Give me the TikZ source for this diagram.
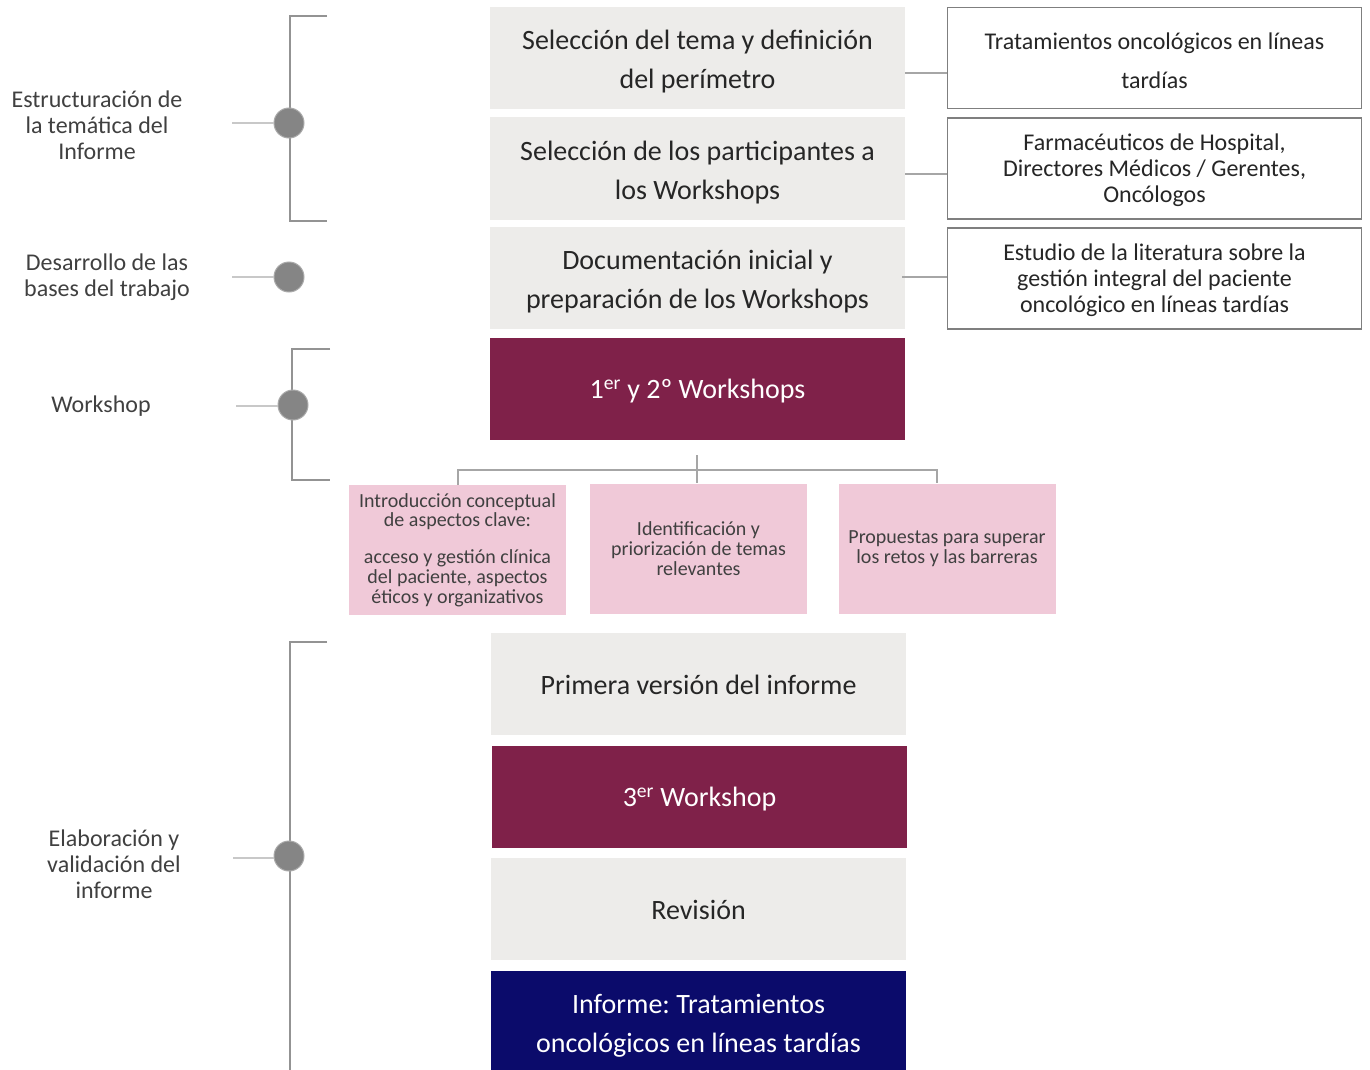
\documentclass[tikz,border=0pt]{standalone}
\usepackage{fontspec}
\setmainfont{Carlito}
\frenchspacing
\definecolor{boxgray}{HTML}{EDECEA}
\definecolor{maroon}{HTML}{7F2149}
\definecolor{navy}{HTML}{0B0B6B}
\definecolor{pinkb}{HTML}{F0C9D8}
\definecolor{txt}{HTML}{262626}
\definecolor{ltxt}{HTML}{404040}
\definecolor{rgray}{HTML}{7F7F7F}
\definecolor{brk}{HTML}{939393}
\definecolor{dotgray}{HTML}{858585}
\definecolor{conn}{HTML}{A6A6A6}
\definecolor{lconn}{HTML}{C8C8C8}
\begin{document}
\begin{tikzpicture}[x=1pt,y=-1pt,
  mainbox/.style={rectangle, minimum width=415pt, minimum height=102pt, inner sep=0pt},
  grayb/.style={mainbox, fill=boxgray},
  maroonb/.style={mainbox, fill=maroon},
  navyb/.style={mainbox, fill=navy},
  mtxt/.style={align=center, inner sep=0pt, font=\fontsize{28}{39}\selectfont, text=txt},
  wtxt/.style={mtxt, text=white},
  rbox/.style={rectangle, draw=rgray, line width=1.6pt, fill=white, minimum width=414pt, minimum height=101pt, inner sep=0pt},
  rtxt/.style={align=center, inner sep=0pt, font=\fontsize{24}{26}\selectfont, text=txt},
  pbox/.style={rectangle, fill=pinkb, minimum width=217pt, minimum height=130pt, inner sep=0pt, align=center, font=\fontsize{20}{19.8}\selectfont, text=ltxt},
  lbl/.style={align=center, font=\fontsize{24}{26}\selectfont, text=ltxt},
  dot/.style={circle, fill=dotgray, draw=dotgray!70, line width=1pt, minimum size=30pt, inner sep=0pt},
  brkline/.style={draw=brk, line width=2.6pt},
  hline/.style={draw=lconn, line width=1.6pt},
  cline/.style={draw=conn, line width=1.3pt}
]
\useasboundingbox (0,0) rectangle (1370,1070);

% main column
\node[grayb] (b1) at (697.5,58) {};
\node[mtxt] (b1t) at ([yshift=-4pt]b1.center) {Selección del tema y definición\\del perímetro};
\node[grayb] (b2) at (697.5,168.5) {};
\node[mtxt] (b2t) at ([yshift=-4pt]b2.center) {Selección de los participantes a\\los Workshops};
\node[grayb] (b3) at (697.5,278) {};
\node[mtxt] (b3t) at ([yshift=-4pt]b3.center) {Documentación inicial y\\preparación de los Workshops};
\node[maroonb] (b4) at (697.5,389) {};
\node[wtxt] (b4t) at ([yshift=-2pt]b4.center) {1\textsuperscript{er} y 2º Workshops};
\node[grayb] (b5) at (698.5,684) {};
\node[mtxt] (b5t) at ([yshift=-1pt]b5.center) {Primera versión del informe};
\node[maroonb] (b6) at (699.5,796.5) {};
\node[wtxt] (b6t) at ([yshift=-2.5pt]b6.center) {3\textsuperscript{er} Workshop};
\node[grayb] (b7) at (698.5,909) {};
\node[mtxt] (b7t) at ([yshift=-1pt]b7.center) {Revisión};
\node[navyb, minimum height=100pt] (b8) at (698.5,1020.5) {};
\node[wtxt] (b8t) at ([yshift=-5pt]b8.center) {Informe: Tratamientos\\oncológicos en líneas tardías};

% right boxes
\node[rbox] (r1) at (1154.5,58) {};
\node[rtxt, font=\fontsize{24}{39}\selectfont] (r1t) at ([yshift=-3pt]r1.center) {Tratamientos oncológicos en líneas\\tardías};
\node[rbox] (r2) at (1154.5,168.5) {};
\node[rtxt] (r2t) at ([yshift=-2pt]r2.center) {Farmacéuticos de Hospital,\\Directores Médicos / Gerentes,\\Oncólogos};
\node[rbox] (r3) at (1154.5,278.5) {};
\node[rtxt] (r3t) at ([yshift=-1.5pt]r3.center) {Estudio de la literatura sobre la\\gestión integral del paciente\\oncológico en líneas tardías};

\draw[cline] (b1.east |- 0,73) -- (r1.west |- 0,73);
\draw[cline] (b2.east |- 0,174) -- (r2.west |- 0,174);
\draw[cline] (902,277) -- (r3.west |- 0,277);

% pink boxes
\node[pbox] (p1) at (457.5,550) {Introducción conceptual\\de aspectos clave:\\[17pt]acceso y gestión clínica\\del paciente, aspectos\\éticos y organizativos};
\node[pbox] (p2) at (698.5,548.5) {Identificación y\\priorización de temas\\relevantes};
\node[pbox] (p3) at (947,548.5) {Propuestas para superar\\los retos y las barreras};

\coordinate (tc) at (697,455);
\coordinate (hl) at (458,470);
\coordinate (hr) at (937,470);
\draw[cline] (tc) -- (p2.north -| tc);
\draw[cline] (hl |- p1.north) -- (hl) -- (hr) -- (hr |- p3.north);

% left labels and brackets
\node[lbl] (l1) at (97,125) {Estructuración de\\la temática del\\Informe};
\node[lbl] (l2) at (107,277) {Desarrollo de las\\bases del trabajo};
\node[lbl] (l3) at (101,406) {Workshop};
\node[lbl] (l4) at (114,864) {Elaboración y\\validación del\\informe};

% bracket 1
\draw[brkline] (327,16) -- (290,16) -- (290,221) -- (327,221);
\node[dot] (d1) at (289,123) {};
\coordinate (s1) at (232,123);
\draw[hline] (s1) -- (d1.west);

% bracket 2
\node[dot] (d2) at (289,277) {};
\coordinate (s2) at (232,277);
\draw[hline] (s2) -- (d2.west);

% bracket 3
\draw[brkline] (330,349) -- (292,349) -- (292,480) -- (330,480);
\node[dot] (d3) at (293,405) {};
\coordinate (s3) at (236,406);
\draw[hline] (s3) -- (d3.west |- s3);

% bracket 4
\draw[brkline] (327,642) -- (290,642) -- (290,1070);
\node[dot] (d4) at (289,856) {};
\coordinate (s4) at (233,858);
\draw[hline] (s4) -- (d4.west |- s4);
\end{tikzpicture}
\end{document}
